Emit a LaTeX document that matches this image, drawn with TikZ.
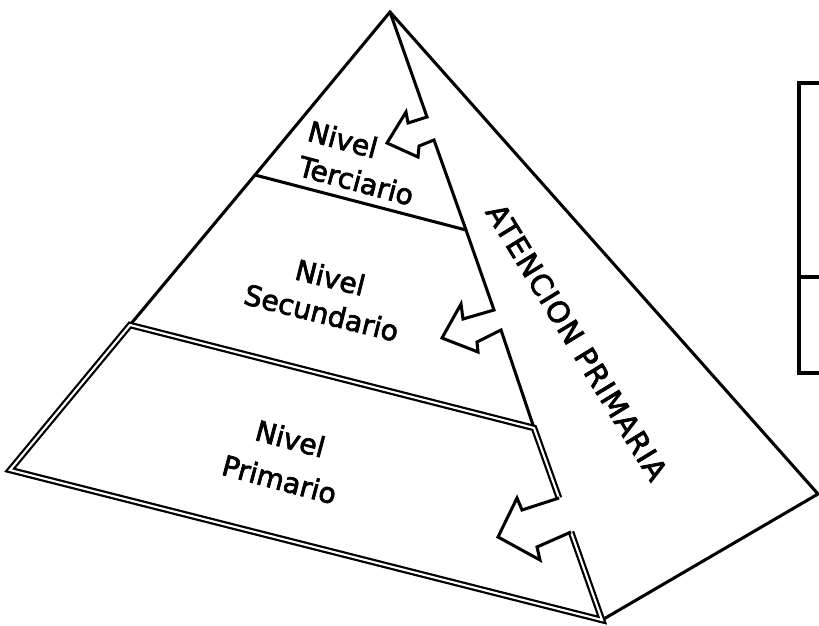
\documentclass[tikz,border=0pt]{standalone}
\usepackage{fontspec}
\setmainfont{DejaVu Sans}
\newfontfamily\rotulo{DejaVu Sans}[FakeBold=2.5]
\begin{document}
\begin{tikzpicture}[x=0.03cm,y=-0.03cm,
    arista/.style={line width=2.6pt,line join=miter},
    doble/.style={line width=1.9pt,double=white,double distance=1.8pt},
    nivel/.style={font=\fontsize{24}{31}\rotulo,align=center,inner sep=0pt}]
    \useasboundingbox (0,0) rectangle (819,626);
    \clip (0,0) rectangle (819,626);
    % vertices de la piramide
    \coordinate (A) at (390,12);
    \coordinate (L) at (10,470);
    \coordinate (B) at (602,620);
    \coordinate (R) at (818,494);
    % caras
    \draw[arista] (130,325) -- (255,175) -- (A) -- (R) -- (B);
    \draw[arista] (A) -- (427,117) -- (408,123) -- (406,112) -- (387,143) -- (418,157) -- (419,146) -- (434,140)
        -- (466,230) -- (494,310) -- (463,319) -- (461,304) -- (442,338) -- (478,352) -- (477,342) -- (501,330) -- (534,428);
    \draw[arista] (255,175) -- (466,230);
    \draw[doble] (559,498) -- (534,428) -- (130,325) -- (L) -- (B) -- (571,532);
    \draw[arista] (559,498) -- (522,510) -- (517,498) -- (498,537) -- (540,560) -- (537,547) -- (571,532);
    % textos
    \node[nivel,align=left,rotate=-15] (T) at (361,163) {Nivel\\Terciario};
    \node[nivel,rotate=-14] (S) at (326,295) {Nivel\\Secundario};
    \node[nivel,rotate=-15] (P) at (285,459) {Nivel\\[5pt]Primario};
    \node[nivel,font=\fontsize{25}{31}\rotulo\addfontfeature{LetterSpace=4},rotate=-58.5] (AP) at (577,342) {ATENCION PRIMARIA};
    % cuadro
    \draw[line width=3.2pt] (799,83) rectangle (840,373);
    \draw[line width=3.2pt] (799,277) -- (840,277);
\end{tikzpicture}
\end{document}
